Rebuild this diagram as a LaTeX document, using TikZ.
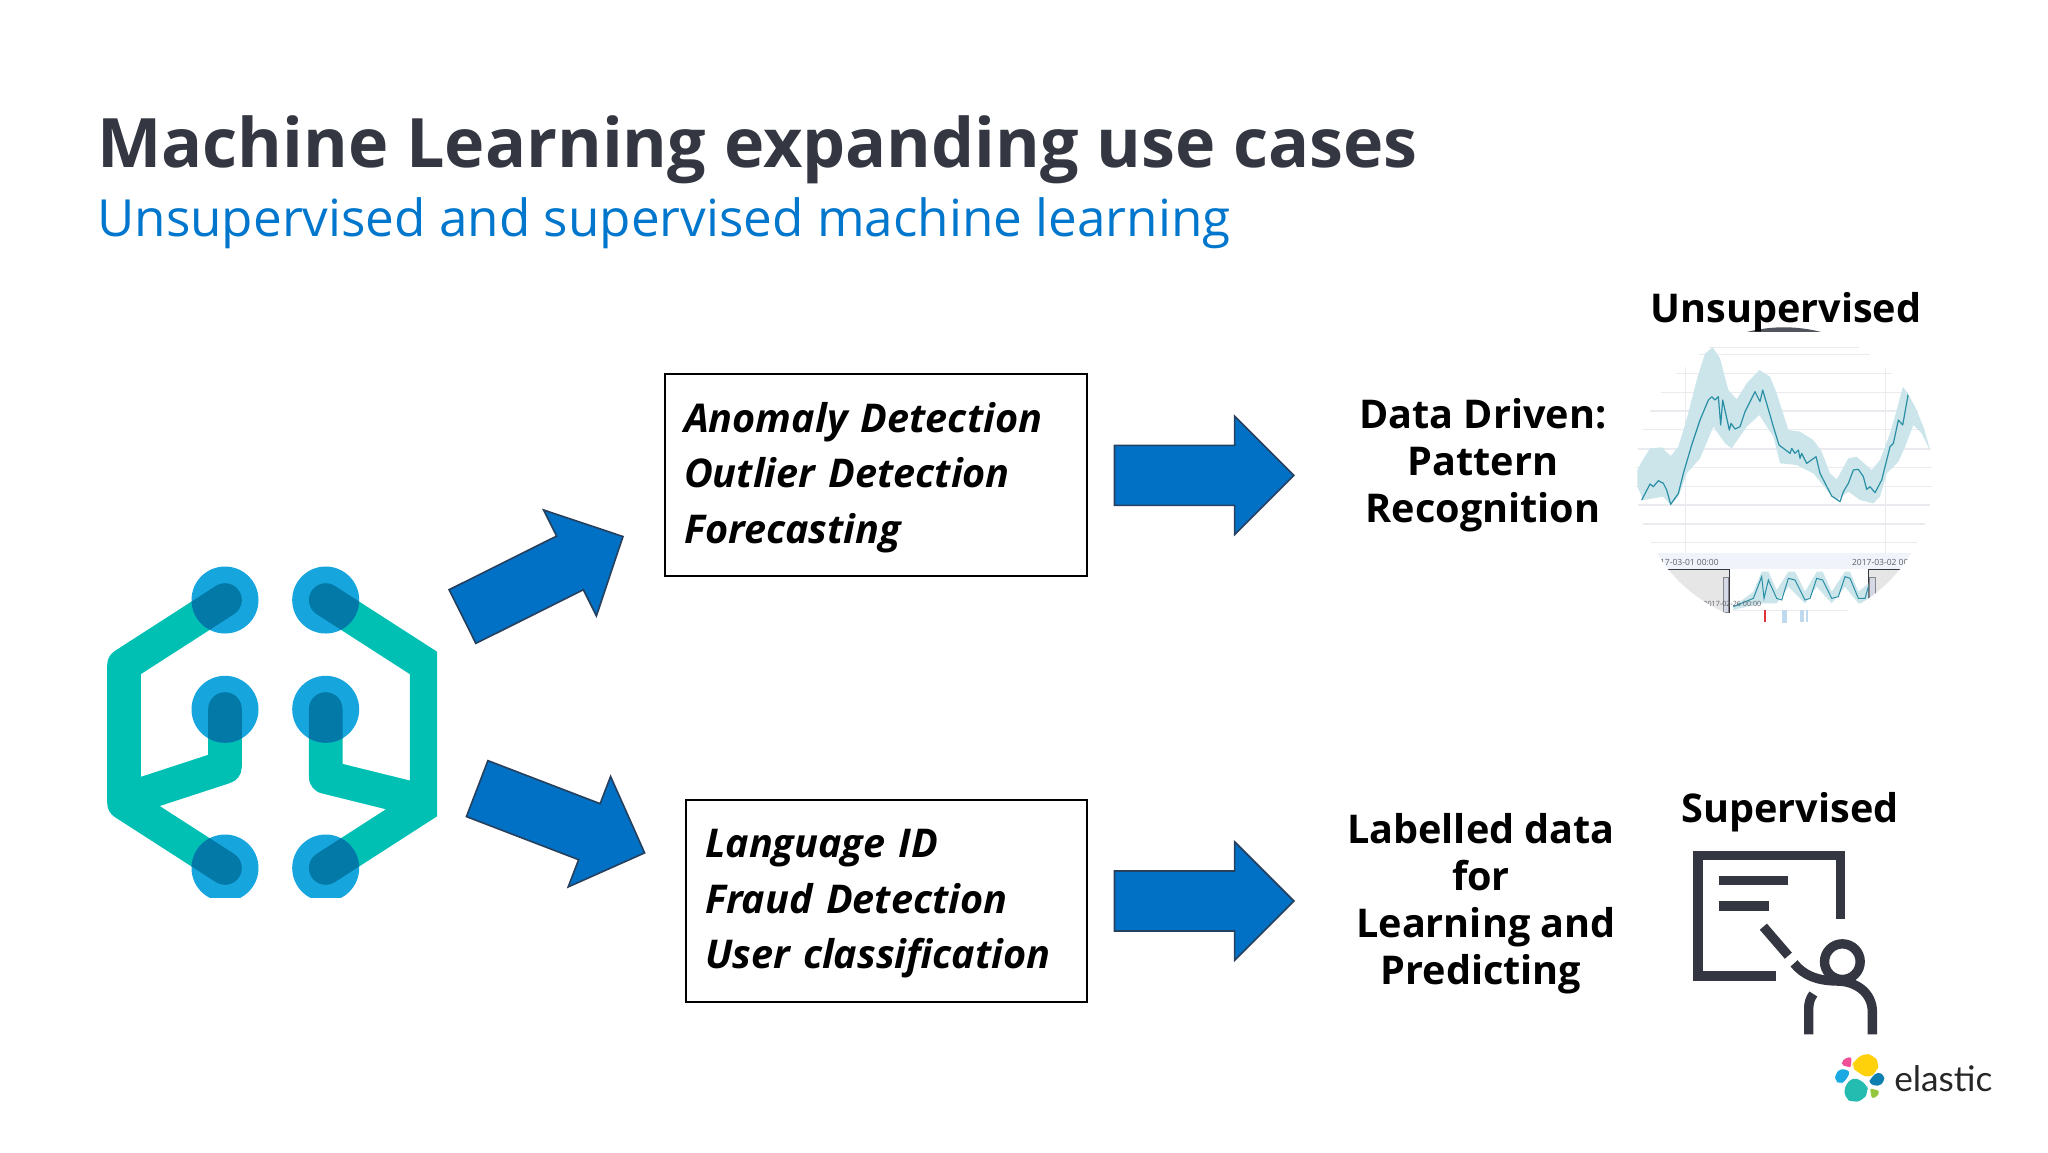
\documentclass[tikz,border=0pt]{standalone}
\usepackage{fontspec}
\setmainfont{Open Sans}
\newfontfamily\brandfont{Lato}
\usetikzlibrary{shapes.arrows}
\definecolor{inkdark}{HTML}{343741}
\definecolor{subblue}{HTML}{0077CC}
\definecolor{arrowblue}{HTML}{0071C5}
\definecolor{arrowedge}{HTML}{27405E}
\definecolor{wireteal}{HTML}{00BFB3}
\definecolor{dotblue}{HTML}{17A5DE}
\definecolor{wiredark}{HTML}{0279A6}
\definecolor{gridgray}{HTML}{E9EBEF}
\definecolor{bandteal}{HTML}{CBE5EA}
\definecolor{lineteal}{HTML}{2A8FA5}
\definecolor{stripblue}{HTML}{F0F4FA}
\definecolor{shadegray}{HTML}{E6E6E6}
\definecolor{handlegray}{HTML}{D5D8E5}
\definecolor{tickblue}{HTML}{BFDAEE}
\definecolor{tickred}{HTML}{E0323C}
\definecolor{blobyellow}{HTML}{FED10A}
\definecolor{blobteal}{HTML}{24BBB1}
\definecolor{blobblue}{HTML}{1BA9E1}
\definecolor{blobpink}{HTML}{EF5098}
\definecolor{blobnavy}{HTML}{0F7FB0}
\definecolor{blobgreen}{HTML}{93C83E}
\tikzstyle{title} = [anchor=base west, inner sep=0, text=inkdark, font=\fontsize{34.1}{36}\selectfont\bfseries]
\tikzstyle{subtitle} = [anchor=base west, inner sep=0, text=subblue, font=\fontsize{25.6}{28}\selectfont]
\tikzstyle{usecase} = [rectangle, draw=black, line width=1pt, inner xsep=9.5pt, inner ysep=0, minimum height=101pt, align=left, font=\fontsize{19.8}{27.7}\selectfont\bfseries\itshape, execute at begin node={\rule{0pt}{17.5pt}}]
\tikzstyle{note} = [inner sep=0, align=center, font=\fontsize{19.8}{23.5}\selectfont\bfseries]
\tikzstyle{bigarrow} = [single arrow, anchor=tip, draw=arrowedge, fill=arrowblue, line width=0.8pt, inner xsep=0, inner ysep=14.6pt, minimum height=89.7pt, minimum width=58.4pt, single arrow head extend=14.6pt, single arrow tip angle=90]
\tikzstyle{wire} = [line width=16.8pt, line cap=round, line join=round]
\tikzstyle{icon} = [draw=inkdark, line width=4.7pt]
\tikzstyle{datelabel} = [inner sep=0, text=inkdark!80, font=\fontsize{4.25}{5}\selectfont]
\newcommand{\wirepaths}{(225,600) -- (124,665) -- (124,803) -- (225,868) (225,709) -- (225,767) -- (124,800)
  (325.7,600) -- (426.7,665) -- (426.7,803) -- (325.7,868) (325.7,709) -- (325.7,777) -- (426.7,802)}
\begin{document}
\begin{tikzpicture}[x=0.5pt, y=-0.5pt]
\useasboundingbox (0,0) rectangle (2048,1152);
\node (head) [title] at (97,167.5) {Machine Learning expanding use cases};
\node (subhead) [subtitle] at (97,236.5) {Unsupervised and supervised machine learning};
% brain logo
\begin{scope}
\clip (100,550) rectangle (437,897);
\draw [wire, draw=wireteal] \wirepaths;
\foreach \cx/\cy in {225/600, 325.7/600, 225/709.3, 325.7/709.3, 225/868, 325.7/868} {
  \fill [dotblue] (\cx,\cy) circle (33.5);
  \begin{scope}
  \clip (\cx,\cy) circle (33.5);
  \draw [wire, draw=wiredark] \wirepaths;
  \end{scope}
}
\end{scope}
% boxes and arrows
\node (up) [bigarrow, rotate=26.5] at (624,536) {};
\node (down) [bigarrow, rotate=-21] at (645.7,853.3) {};
\node (unsup) [usecase, text width=192pt] at (876,475) {Anomaly Detection\\Outlier Detection\\Forecasting};
\node (sup) [usecase, text width=181.5pt] at (886.5,900.5) {Language ID\\Fraud Detection\\User classification};
\node (upright) [bigarrow] at (1295,475.3) {};
\node (downright) [bigarrow] at (1295,901) {};
\node (driven) [note] at (1483,465) {Data Driven:\\Pattern\\Recognition};
\node (labelled) [note] at (1481,903.5) {Labelled data\\for\\\hspace*{5pt}Learning and\\Predicting};
% chart
\begin{scope}
\clip (1784,476) circle (148.7);
\fill [inkdark!85] (1600,320) rectangle (2000,332);
\begin{scope}[shift={(1600,270)}, x=0.16667pt, y=-0.16667pt]
\foreach \gy in {232,253,310,367,423,478,537,593,650,705,762,818}
  \draw [gridgray, line width=0.6pt] (100,\gy) -- (1000,\gy);
\foreach \gx in {257,857}
  \draw [gridgray, line width=0.6pt] (\gx,290) -- (\gx,850);
\fill [bandteal] (112,600) -- (125,575) -- (150,535) -- (185,532) -- (212,558) -- (235,530) -- (262,440) -- (290,330) -- (315,250) -- (338,232) -- (360,265) -- (385,360) -- (410,388) -- (440,340) -- (478,300) -- (510,320) -- (530,370) -- (565,480) -- (600,485) -- (640,510) -- (665,545) -- (690,610) -- (710,628) -- (745,565) -- (770,560) -- (815,600) -- (840,570) -- (870,490) -- (890,420) -- (910,345) -- (945,410) -- (970,470) -- (993,548) -- (965,490) -- (940,465) -- (915,530) -- (895,575) -- (860,610) -- (840,680) -- (820,700) -- (780,690) -- (745,665) -- (710,690) -- (680,660) -- (640,610) -- (590,585) -- (540,580) -- (520,500) -- (478,435) -- (440,470) -- (395,535) -- (375,520) -- (340,470) -- (300,565) -- (260,610) -- (235,680) -- (212,705) -- (190,680) -- (130,690) -- (112,650) -- cycle;
\draw [lineteal, line width=0.6pt, line join=round] (125,690) -- (150,642) -- (160,650) -- (175,632) -- (190,640) -- (200,660) -- (212,703) -- (235,670) -- (250,610) -- (275,525) -- (300,450) -- (325,390) -- (335,380) -- (345,390) -- (355,380) -- (362,465) -- (368,390) -- (388,480) -- (393,460) -- (405,477) -- (420,470) -- (435,425) -- (450,395) -- (465,365) -- (480,395) -- (488,360) -- (510,435) -- (520,470) -- (537,525) -- (570,550) -- (575,535) -- (585,550) -- (595,540) -- (600,565) -- (605,550) -- (620,580) -- (648,560) -- (660,610) -- (695,678) -- (720,695) -- (730,665) -- (745,640) -- (760,600) -- (775,598) -- (790,620) -- (800,658) -- (810,650) -- (825,668) -- (845,630) -- (870,530) -- (880,520) -- (895,450) -- (908,465) -- (925,370);
% navigator strip
\fill [stripblue] (100,850) rectangle (1000,897);
\fill [shadegray] (100,897) rectangle (388,1030);
\fill [shadegray] (805,897) rectangle (1000,1030);
\draw [inkdark, line width=0.5pt] (100,897) -- (388,897) -- (388,1030);
\draw [inkdark, line width=0.5pt] (1000,897) -- (805,897) -- (805,1030);
\filldraw [draw=inkdark!60, fill=handlegray, line width=0.3pt] (370,922) rectangle (386,1028);
\filldraw [draw=inkdark!60, fill=handlegray, line width=0.3pt] (807,922) rectangle (825,1012);
\fill [bandteal] (400,1010) -- (460,965) -- (485,905) -- (505,905) -- (530,960) -- (565,905) -- (585,905) -- (615,965) -- (650,905) -- (668,905) -- (695,965) -- (735,905) -- (750,905) -- (775,965) -- (805,940) -- (805,1000) -- (775,1000) -- (735,950) -- (695,1000) -- (650,950) -- (615,1000) -- (565,950) -- (530,1000) -- (490,1000) -- (460,1005) -- (400,1020) -- cycle;
\draw [lineteal, line width=0.5pt] (400,1010) -- (460,985) -- (485,920) -- (492,985) -- (505,930) -- (530,985) -- (545,990) -- (565,925) -- (585,930) -- (615,990) -- (630,985) -- (650,925) -- (668,930) -- (695,985) -- (715,980) -- (735,920) -- (750,925) -- (775,985) -- (795,985) -- (805,950);
\draw [gridgray, line width=0.5pt] (400,1020) -- (745,1020);
\fill [tickred] (492,1020) rectangle (499,1055);
\fill [tickblue] (546,1020) rectangle (560,1060);
\fill [tickblue] (600,1020) rectangle (612,1055);
\fill [tickblue] (619,1020) rectangle (625,1055);
\node (dateleft) [datelabel, anchor=east] at (357,878) {2017-03-01 00:00};
\node (dateright) [datelabel, anchor=west] at (755,878) {2017-03-02 00:00};
\node (datelow) [datelabel, anchor=east, font=\fontsize{3.6}{4}\selectfont] at (485,1002) {2017-02-26 00:00};
\end{scope}
\end{scope}
\node (unsuptag) [note] at (1786,312) {Unsupervised};
\node (suptag) [note] at (1790,812) {Supervised};
% presenter icon and company mark
\begin{scope}[shift={(1640,770)}, x=0.16667pt, y=-0.16667pt]
\draw [icon] (602,447) -- (602,256) -- (174,256) -- (174,618) -- (407,618);
\draw [icon] (236,332) -- (445,332);
\draw [icon] (236,408) -- (388,408);
\draw [icon] (370,470) -- (445,557);
\draw [icon] (607,575) circle (53.5);
\draw [icon] (462,580) .. controls (490,615) and (530,632) .. (590,633) .. controls (650,633) and (697,670) .. (697,725) -- (697,793);
\draw [icon] (506,793) -- (506,715) .. controls (506,700) and (510,685) .. (520,672);
\fill [blobyellow, rounded corners=3pt] (640,875) -- (670,850) -- (700,855) -- (718,880) -- (710,905) -- (685,925) -- (650,905) -- (635,890) -- cycle;
\fill [blobteal, rounded corners=3pt] (612,950) -- (640,920) -- (680,942) -- (685,965) -- (670,990) -- (640,998) -- (615,985) -- cycle;
\fill [blobblue, rounded corners=2pt] (585,915) -- (600,895) -- (632,903) -- (615,935) -- (598,942) -- (585,930) -- cycle;
\fill [blobpink, rounded corners=1pt] (605,875) -- (620,862) -- (635,862) -- (632,893) -- (605,885) -- cycle;
\fill [blobnavy, rounded corners=2pt] (692,925) -- (712,905) -- (733,915) -- (733,935) -- (715,950) -- (685,940) -- cycle;
\fill [blobgreen, rounded corners=1pt] (690,955) -- (718,962) -- (712,980) -- (695,985) -- cycle;
\node (brand) [inner sep=0, text=black!85, font=\brandfont\fontsize{17.6}{20}\selectfont] at (910,925) {elastic};
\end{scope}
\end{tikzpicture}
\end{document}
